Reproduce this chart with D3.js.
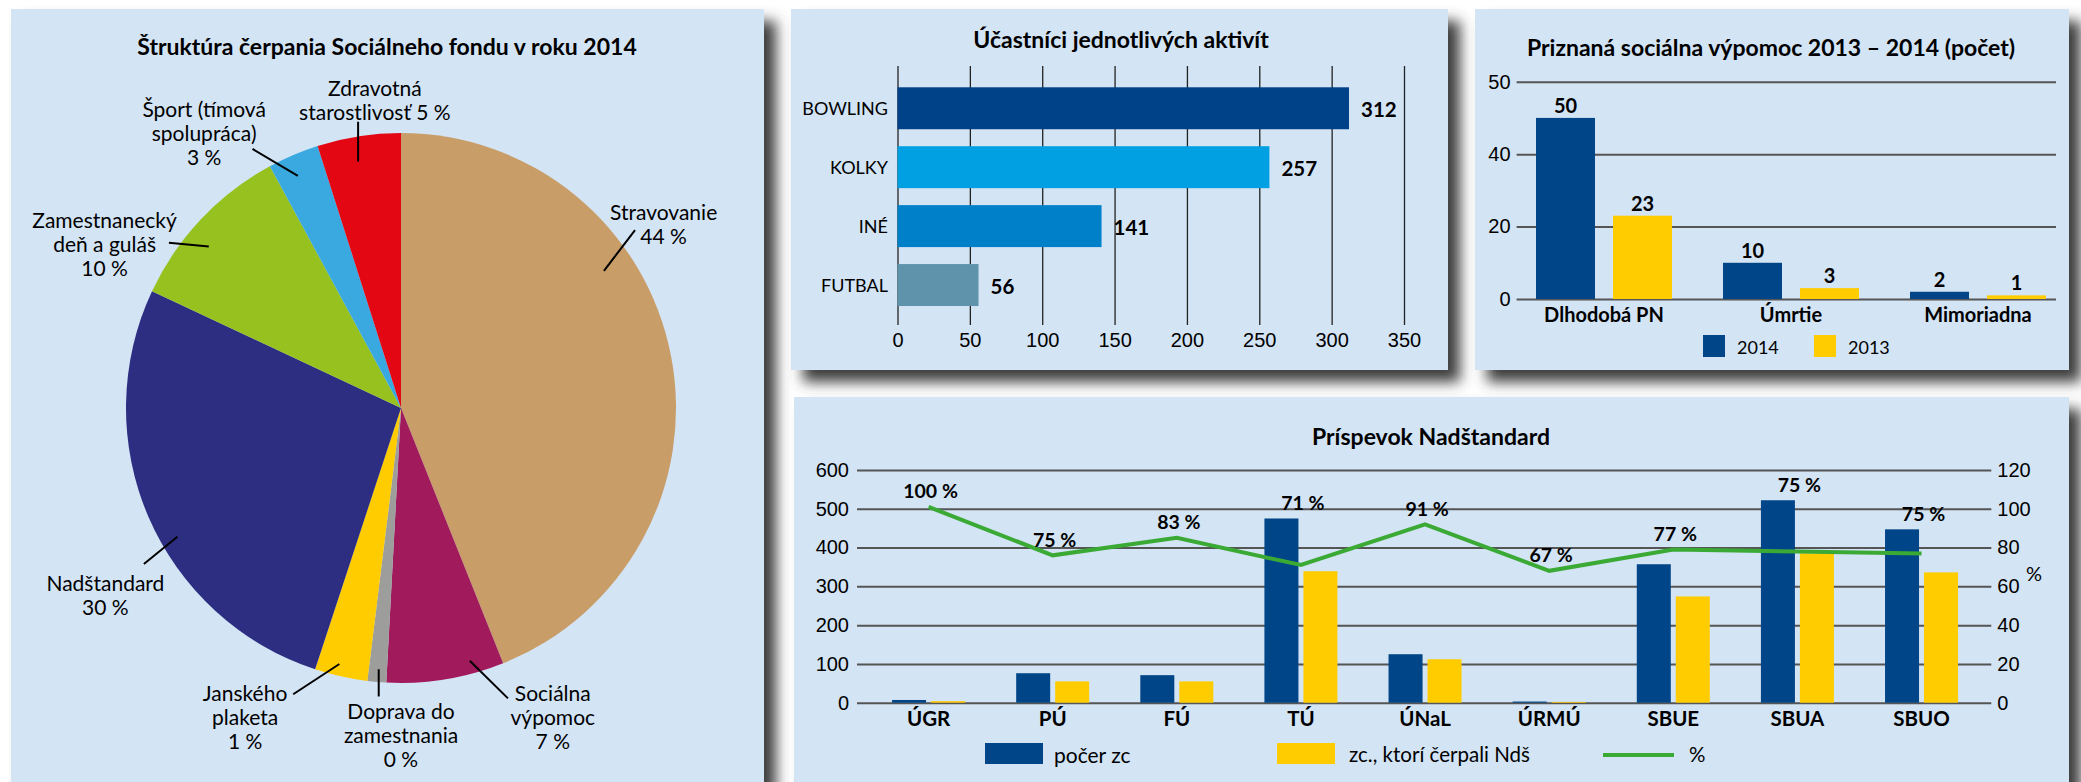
<!DOCTYPE html>
<html>
<head>
<meta charset="utf-8">
<script src="https://cdn.jsdelivr.net/npm/d3@7"></script>
<style>
  body { margin: 0; background: #fff; }
  svg { display: block; font-family: Lato, "Open Sans", sans-serif; }
  .title { font-weight: 700; font-size: 23px; }
  .tick text { font-size: 20px; fill: #000; }
</style>
</head>
<body>
<script>
// ---- data ----
const pieNames = ["Stravovanie\n44 %", "Sociálna\nvýpomoc\n7 %", "Doprava do\nzamestnania\n0 %",
  "Janského\nplaketa\n1 %", "Nadštandard\n30 %", "Zamestnanecký\ndeň a guláš\n10 %",
  "Šport (tímová\nspolupráca)\n3 %", "Zdravotná\nstarostlivosť 5 %"];
const pieShares = [43.9, 6.9, 1.1, 3.1, 26.9, 10.1, 3.0, 4.9];
const pieColors = ["#c89d67", "#a11a5b", "#9d9d9c", "#ffcc00", "#2d2e82", "#96c11f", "#3aa9e0", "#e30613"];

const activityNames = ["BOWLING", "KOLKY", "INÉ", "FUTBAL"];
const activityCounts = [312, 257, 141, 56];
const activityColors = ["#004287", "#00a0e2", "#0080c8", "#5f93ab"];
const activityTicks = [0, 50, 100, 150, 200, 250, 300, 350];

const aidCategories = ["Dlhodobá PN", "Úmrtie", "Mimoriadna"];
const aidYears = ["2014", "2013"];
const aid2014 = [50, 10, 2];
const aid2013 = [23, 3, 1];
const aidTickValues = [0, 20, 40, 60];
const aidTickLabels = ["0", "20", "40", "50"];

const ndsUnits = ["ÚGR", "PÚ", "FÚ", "TÚ", "ÚNaL", "ÚRMÚ", "SBUE", "SBUA", "SBUO"];
const ndsCount = [7, 76, 71, 475, 125, 3, 357, 522, 447];
const ndsUsed = [4, 55, 55, 339, 112, 2, 274, 385, 336];
const ndsPctLine = [101, 76, 85, 71, 92, 68, 79, 78, 77];
const ndsPctLabel = [100, 75, 83, 71, 91, 67, 77, 75, 75];
const ndsTicksLeft = [0, 100, 200, 300, 400, 500, 600];
const ndsTicksRight = [0, 20, 40, 60, 80, 100, 120];
const ndsLegend = ["počer zc", "zc., ktorí čerpali Ndš", "%"];

const BLUE = "#004587", YELLOW = "#ffcc00", GREEN = "#3aaa35", PANEL = "#d3e4f5";

// ---- base svg ----
const svg = d3.select("body").append("svg")
  .attr("width", 2081).attr("height", 782);

const defs = svg.append("defs");
defs.append("filter").attr("id", "blur")
  .attr("x", "-10%").attr("y", "-10%").attr("width", "130%").attr("height", "130%")
  .append("feGaussianBlur").attr("stdDeviation", 7);

svg.append("rect").attr("width", 2081).attr("height", 782).attr("fill", "#fff");

const panels = [
  { x: 11, y: 9, w: 753, h: 800 },
  { x: 791, y: 9, w: 657, h: 361 },
  { x: 1475, y: 9, w: 594, h: 361 },
  { x: 794, y: 397, w: 1275, h: 400 }
];
// shadows first, then panels on top
svg.selectAll("rect.shadow").data(panels).join("rect").attr("class", "shadow")
  .attr("x", d => d.x + 12).attr("y", d => d.y + 12)
  .attr("width", d => d.w).attr("height", d => d.h)
  .attr("fill", "#3c3c3c").attr("filter", "url(#blur)");
svg.selectAll("rect.panel").data(panels).join("rect").attr("class", "panel")
  .attr("x", d => d.x).attr("y", d => d.y)
  .attr("width", d => d.w).attr("height", d => d.h)
  .attr("fill", PANEL);

function multiline(sel, text, lh) {
  text.split("\n").forEach((t, i) => {
    sel.append("tspan").attr("x", sel.attr("x")).attr("dy", i === 0 ? 0 : lh).text(t);
  });
}

// ---- pie ----
const pieG = svg.append("g").attr("transform", "translate(401,408)");
const R = 275;
svg.append("text").attr("class", "title").attr("x", 387).attr("y", 46)
  .attr("text-anchor", "middle").attr("dominant-baseline", "central")
  .text("Štruktúra čerpania Sociálneho fondu v roku 2014");

const pie = d3.pie().sort(null).value(d => d)(pieShares);
const arc = d3.arc().innerRadius(0).outerRadius(R);
pieG.selectAll("path").data(pie).join("path")
  .attr("d", arc).attr("fill", (d, i) => pieColors[i]);

// label placement relative to radius: text anchor (tx,ty), leader (x1,y1)-(x2,y2)
const pieLabelPos = [
  { tx: 0.955, ty: -0.718, l: [0.738, -0.499, 0.851, -0.647] },
  { tx: 0.552, ty: 1.032, l: [0.250, 0.919, 0.389, 1.056] },
  { tx: 0.0, ty: 1.098, l: [-0.081, 0.950, -0.081, 1.049] },
  { tx: -0.567, ty: 1.032, l: [-0.224, 0.931, -0.392, 1.041] },
  { tx: -1.075, ty: 0.632, l: [-0.813, 0.468, -0.935, 0.567] },
  { tx: -1.078, ty: -0.687, l: [-0.699, -0.587, -0.844, -0.601] },
  { tx: -0.716, ty: -1.091, l: [-0.375, -0.844, -0.540, -0.942] },
  { tx: -0.095, ty: -1.167, l: [-0.156, -0.896, -0.156, -1.041] }
];
pieG.selectAll("line.leader").data(pieLabelPos).join("line").attr("class", "leader")
  .attr("x1", d => d.l[0] * R).attr("y1", d => d.l[1] * R)
  .attr("x2", d => d.l[2] * R).attr("y2", d => d.l[3] * R)
  .attr("stroke", "#000").attr("stroke-width", 2);
pieLabelPos.forEach((p, i) => {
  const t = pieG.append("text").attr("x", p.tx * R).attr("y", p.ty * R)
    .attr("text-anchor", "middle").attr("dominant-baseline", "central")
    .style("font-size", "21px");
  multiline(t, pieNames[i], 24);
});

// ---- horizontal bars ----
svg.append("text").attr("class", "title").attr("x", 1121).attr("y", 39)
  .attr("text-anchor", "middle").attr("dominant-baseline", "central")
  .text("Účastníci jednotlivých aktivít");

const hx = d3.scaleLinear().domain([0, 350]).range([897.5, 1404]);
const hy = d3.scaleBand().domain(activityNames).range([78.8, 314.5])
  .paddingInner(0.288).paddingOuter(0.144);

const hAxis = svg.append("g").attr("transform", "translate(0,325)")
  .call(d3.axisBottom(hx).tickValues(activityTicks).tickSize(-259).tickPadding(8));
hAxis.select(".domain").remove();
hAxis.selectAll(".tick line").attr("stroke", "#222").attr("stroke-width", 1.3);

svg.selectAll("rect.act").data(activityNames).join("rect").attr("class", "act")
  .attr("x", hx(0)).attr("y", d => hy(d))
  .attr("width", (d, i) => hx(activityCounts[i]) - hx(0))
  .attr("height", hy.bandwidth())
  .attr("fill", (d, i) => activityColors[i]);
svg.selectAll("text.actname").data(activityNames).join("text").attr("class", "actname")
  .attr("x", 888).attr("y", d => hy(d) + hy.bandwidth() / 2)
  .attr("text-anchor", "end").attr("dominant-baseline", "central")
  .style("font-size", "18px").text(d => d);
svg.selectAll("text.actval").data(activityNames).join("text").attr("class", "actval")
  .attr("x", (d, i) => hx(activityCounts[i]) + 12)
  .attr("y", d => hy(d) + hy.bandwidth() / 2 + 1)
  .attr("dominant-baseline", "central")
  .style("font-size", "20.5px").style("font-weight", 700)
  .text((d, i) => activityCounts[i]);

// ---- grouped bars (social aid) ----
svg.append("text").attr("class", "title").attr("x", 1771).attr("y", 47)
  .attr("text-anchor", "middle").attr("dominant-baseline", "central")
  .text("Priznaná sociálna výpomoc 2013 – 2014 (počet)");

const ay = d3.scaleLinear().domain([0, 60]).range([299, 81.7]);
const ax = d3.scaleBand().domain(aidCategories).range([1510.5, 2071.5]);
const ax1 = d3.scaleBand().domain(aidYears).range([0, 136]).paddingInner(0.234);
const aidOff = (ax.bandwidth() - 136) / 2;

const aAxis = svg.append("g").attr("transform", "translate(1516.6,0)")
  .call(d3.axisLeft(ay).tickValues(aidTickValues)
    .tickFormat((d, i) => aidTickLabels[i]).tickSize(-539.4).tickPadding(6));
aAxis.select(".domain").remove();
aAxis.selectAll(".tick line").attr("stroke", "#555").attr("stroke-width", 2);

const aidRows = aidCategories.map((c, i) => ({ c, vals: [aid2014[i], aid2013[i]] }));
const ag = svg.selectAll("g.aid").data(aidRows).join("g").attr("class", "aid")
  .attr("transform", d => `translate(${ax(d.c) + aidOff},0)`);
ag.selectAll("rect").data(d => d.vals).join("rect")
  .attr("x", (d, i) => ax1(aidYears[i])).attr("y", d => ay(d))
  .attr("width", ax1.bandwidth()).attr("height", d => ay(0) - ay(d))
  .attr("fill", (d, i) => i === 0 ? BLUE : YELLOW);
ag.selectAll("text").data(d => d.vals).join("text")
  .attr("x", (d, i) => ax1(aidYears[i]) + ax1.bandwidth() / 2).attr("y", d => ay(d) - 13)
  .attr("text-anchor", "middle").attr("dominant-baseline", "central")
  .style("font-size", "20px").style("font-weight", 700).text(d => d);
svg.selectAll("text.aidcat").data(aidCategories).join("text").attr("class", "aidcat")
  .attr("x", d => ax(d) + ax.bandwidth() / 2).attr("y", 314)
  .attr("text-anchor", "middle").attr("dominant-baseline", "central")
  .style("font-size", "20px").style("font-weight", 700).text(d => d);

const aLeg = svg.selectAll("g.aleg").data(aidYears).join("g").attr("class", "aleg")
  .attr("transform", (d, i) => `translate(${1703 + i * 111},335)`);
aLeg.append("rect").attr("width", 22).attr("height", 22)
  .attr("fill", (d, i) => i === 0 ? BLUE : YELLOW);
aLeg.append("text").attr("x", 34).attr("y", 12).attr("dominant-baseline", "central")
  .style("font-size", "18px").text(d => d);

// ---- Nadštandard ----
svg.append("text").attr("class", "title").attr("x", 1431).attr("y", 436)
  .attr("text-anchor", "middle").attr("dominant-baseline", "central")
  .text("Príspevok Nadštandard");

const ny = d3.scaleLinear().domain([0, 600]).range([702.7, 470]);
const nyR = d3.scaleLinear().domain([0, 120]).range([702.7, 470]);
const nx = d3.scaleBand().domain(ndsUnits).range([866.5, 1983.6]);
const nx1 = d3.scaleBand().domain([0, 1]).range([0, 73]).paddingInner(0.128);
const nOff = (nx.bandwidth() - 73) / 2;

const nAxisL = svg.append("g").attr("transform", "translate(857,0)")
  .call(d3.axisLeft(ny).tickValues(ndsTicksLeft).tickSize(-1134.3).tickPadding(8));
nAxisL.select(".domain").remove();
nAxisL.selectAll(".tick line").attr("stroke", "#555").attr("stroke-width", 2);
const nAxisR = svg.append("g").attr("transform", "translate(1991.3,0)")
  .call(d3.axisRight(nyR).tickValues(ndsTicksRight).tickSize(0).tickPadding(6));
nAxisR.select(".domain").remove();
svg.append("text").attr("x", 2034).attr("y", 573).attr("text-anchor", "middle")
  .attr("dominant-baseline", "central").style("font-size", "20px").text("%");

const nRows = ndsUnits.map((u, i) => ({ u, vals: [ndsCount[i], ndsUsed[i]] }));
const ng = svg.selectAll("g.nds").data(nRows).join("g").attr("class", "nds")
  .attr("transform", d => `translate(${nx(d.u) + nOff},0)`);
ng.selectAll("rect").data(d => d.vals).join("rect")
  .attr("x", (d, i) => nx1(i)).attr("y", d => ny(d))
  .attr("width", nx1.bandwidth()).attr("height", d => ny(0) - ny(d))
  .attr("fill", (d, i) => i === 0 ? BLUE : YELLOW);

svg.selectAll("text.ncat").data(ndsUnits).join("text").attr("class", "ncat")
  .attr("x", d => nx(d) + nx.bandwidth() / 2).attr("y", 718)
  .attr("text-anchor", "middle").attr("dominant-baseline", "central")
  .style("font-size", "20.5px").style("font-weight", 700).text(d => d);

const line = d3.line()
  .x((d, i) => nx(ndsUnits[i]) + nx.bandwidth() / 2)
  .y(d => nyR(d));
svg.append("path").datum(ndsPctLine).attr("d", line)
  .attr("fill", "none").attr("stroke", GREEN).attr("stroke-width", 4);

svg.selectAll("text.npct").data(ndsPctLabel).join("text").attr("class", "npct")
  .attr("x", (d, i) => nx(ndsUnits[i]) + nx.bandwidth() / 2 + 2)
  .attr("y", (d, i) => Math.min(nyR(ndsPctLine[i]), ny(ndsCount[i])) - 16)
  .attr("text-anchor", "middle").attr("dominant-baseline", "central")
  .style("font-size", "19.5px").style("font-weight", 700).text(d => d + " %");

// legend
const nLeg = svg.append("g");
nLeg.append("rect").attr("x", 985).attr("y", 743).attr("width", 58).attr("height", 21).attr("fill", BLUE);
nLeg.append("text").attr("x", 1054).attr("y", 754).attr("dominant-baseline", "central")
  .style("font-size", "21px").text(ndsLegend[0]);
nLeg.append("rect").attr("x", 1277).attr("y", 743).attr("width", 58).attr("height", 21).attr("fill", YELLOW);
nLeg.append("text").attr("x", 1349).attr("y", 754).attr("dominant-baseline", "central")
  .style("font-size", "20.5px").text(ndsLegend[1]);
nLeg.append("line").attr("x1", 1603).attr("x2", 1674).attr("y1", 755).attr("y2", 755)
  .attr("stroke", GREEN).attr("stroke-width", 4);
nLeg.append("text").attr("x", 1689).attr("y", 754).attr("dominant-baseline", "central")
  .style("font-size", "20.5px").text(ndsLegend[2]);
</script>
</body>
</html>
